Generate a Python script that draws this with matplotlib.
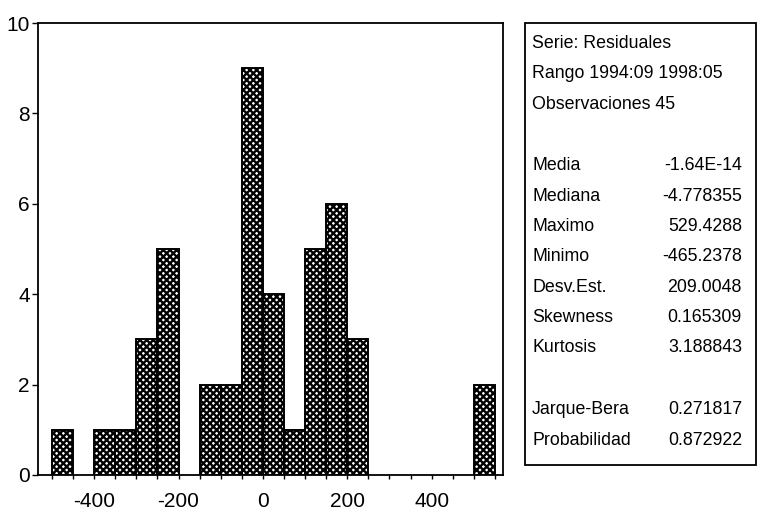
import matplotlib.pyplot as plt
from matplotlib.patches import Rectangle

# histogram of residuals, bins of width 50
bin_left = [-500, -450, -400, -350, -300, -250, -200, -150, -100, -50,
            0, 50, 100, 150, 200, 250, 300, 350, 400, 450, 500]
counts = [1, 0, 1, 1, 3, 5, 0, 2, 2, 9,
          4, 1, 5, 6, 3, 0, 0, 0, 0, 0, 2]
bin_width = 50

x_labels = {-400: '-400', -200: '-200', 0: '0', 200: '200', 400: '400'}
y_ticks = [0, 2, 4, 6, 8, 10]

header = ['Serie: Residuales', 'Rango 1994:09 1998:05', 'Observaciones 45']
stat_names = ['Media', 'Mediana', 'Maximo', 'Minimo', 'Desv.Est.',
              'Skewness', 'Kurtosis']
stat_values = ['-1.64E-14', '-4.778355', '529.4288', '-465.2378',
               '209.0048', '0.165309', '3.188843']
test_names = ['Jarque-Bera', 'Probabilidad']
test_values = ['0.271817', '0.872922']

plt.rcParams['font.family'] = ['Liberation Sans', 'DejaVu Sans']
plt.rcParams['hatch.linewidth'] = 1.7

W, H = 757, 514
fig = plt.figure(figsize=(W / 100, H / 100), dpi=100)
ax = fig.add_axes([38 / W, 1 - 475 / H, 465 / W, 452 / H])

nz = [(b, c) for b, c in zip(bin_left, counts) if c > 0]
ax.bar([b for b, _ in nz], [c for _, c in nz], width=bin_width, align='edge',
       facecolor='white', edgecolor='black', linewidth=1.4, hatch='xxxxx')

ax.set_xlim(-533, 569)
ax.set_ylim(0, 10)

ticks = list(range(-500, 551, 50))
ax.set_xticks(ticks)
ax.set_xticklabels([x_labels.get(t, '') for t in ticks], fontsize=15)
ax.set_yticks(y_ticks)
ax.set_yticklabels([str(t) for t in y_ticks], fontsize=15)
ax.tick_params(axis='x', length=3, width=1, pad=9)
ax.tick_params(axis='y', length=4, width=1, pad=2)
for s in ax.spines.values():
    s.set_linewidth(1.3)

# statistics box
fig.add_artist(Rectangle((525 / W, 1 - 465 / H), 231 / W, 442 / H,
                         transform=fig.transFigure, fill=False,
                         edgecolor='black', linewidth=1.3))

lx, rx = 532 / W, 742 / W
fs = 12.8
for txt, yp in zip(header, [43, 74, 105]):
    fig.text(lx, 1 - yp / H, txt, fontsize=fs, va='center', ha='left')
for i, (n, v) in enumerate(zip(stat_names, stat_values)):
    yp = 166 + i * 30.3
    fig.text(lx, 1 - yp / H, n, fontsize=fs, va='center', ha='left')
    fig.text(rx, 1 - yp / H, v, fontsize=fs, va='center', ha='right')
for i, (n, v) in enumerate(zip(test_names, test_values)):
    yp = 410 + i * 30.5
    fig.text(lx, 1 - yp / H, n, fontsize=fs, va='center', ha='left')
    fig.text(rx, 1 - yp / H, v, fontsize=fs, va='center', ha='right')

fig.savefig('out.png', dpi=100)
